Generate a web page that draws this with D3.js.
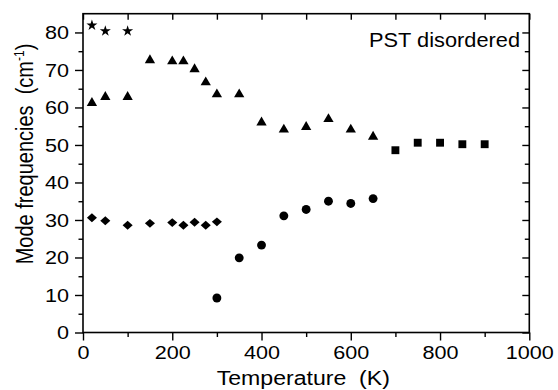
<html>
<head>
  <meta charset="UTF-8">
  <title>PST disordered mode frequencies</title>
  <script src="https://d3js.org/d3.v7.min.js"></script>
  <style>
    body { margin: 0; background: #fff; }
    text { font-family: "Liberation Sans", Arial, sans-serif; fill: #000; }
  </style>
</head>
<body>
  <svg id="chart" width="558" height="390"></svg>
  <script>
    /* Data */
    // stars
    const starT = [20, 50, 100];
    const starF = [81.9, 80.4, 80.4];
    // triangles
    const triT = [20, 50, 100, 150, 200, 225, 250, 275, 300, 350, 400, 450, 500, 550, 600, 650];
    const triF = [61.2, 62.8, 62.8, 72.6, 72.3, 72.3, 70.2, 66.7, 63.5, 63.5, 56.0, 54.1, 54.8, 56.9, 54.1, 52.2];
    // squares
    const sqT = [700, 750, 800, 850, 900];
    const sqF = [48.6, 50.6, 50.6, 50.2, 50.2];
    // diamonds
    const diaT = [20, 50, 100, 150, 200, 225, 250, 275, 300];
    const diaF = [30.6, 29.8, 28.6, 29.1, 29.3, 28.6, 29.4, 28.6, 29.5];
    // circles
    const circT = [300, 350, 400, 450, 500, 550, 600, 650];
    const circF = [9.2, 19.9, 23.3, 31.1, 32.8, 35.0, 34.4, 35.7];

    // ticks
    const xMajor = [0, 200, 400, 600, 800, 1000];
    const xMinor = [100, 300, 500, 700, 900];
    const yMajor = [0, 10, 20, 30, 40, 50, 60, 70, 80];
    const yMinor = [5, 15, 25, 35, 45, 55, 65, 75];

    /* Constants */
    const svg = d3.select("#chart");
    const plotLeft = 83, plotRight = 529.3, plotTop = 13.7, plotBottom = 332.5;

    const x = d3.scaleLinear().domain([0, 1000]).range([plotLeft, plotRight]);
    const y = d3.scaleLinear().domain([0, 85]).range([plotBottom, plotTop]);

    // wide diamond like the original
    const diamond = {
      draw(ctx, size) {
        const r = Math.sqrt(size / 2);
        ctx.moveTo(0, -r * 0.92);
        ctx.lineTo(r * 1.05, 0);
        ctx.lineTo(0, r * 0.92);
        ctx.lineTo(-r * 1.05, 0);
        ctx.closePath();
      }
    };

    /* Axes */
    function noDomain(g) { g.select(".domain").remove(); }

    // bottom (outward)
    svg.append("g").attr("transform", `translate(0,${plotBottom})`)
      .call(d3.axisBottom(x).tickValues(xMajor).tickFormat(d3.format("d")).tickSize(8).tickSizeOuter(0))
      .call(noDomain)
      .call(g => g.selectAll("text")
        .attr("y", 26.8).attr("dy", 0)
        .attr("font-size", 18)
        .attr("transform", "scale(1.2,1)"));
    svg.append("g").attr("transform", `translate(0,${plotBottom})`)
      .call(d3.axisBottom(x).tickValues(xMinor).tickSize(4.5).tickFormat("").tickSizeOuter(0))
      .call(noDomain);

    // top (inward)
    svg.append("g").attr("transform", `translate(0,${plotTop})`)
      .call(d3.axisBottom(x).tickValues(xMajor.concat(xMinor)).tickSize(6).tickFormat("").tickSizeOuter(0))
      .call(noDomain);

    // left (outward)
    svg.append("g").attr("transform", `translate(${plotLeft},0)`)
      .call(d3.axisLeft(y).tickValues(yMajor).tickSize(8).tickSizeOuter(0))
      .call(noDomain)
      .call(g => g.selectAll("text")
        .attr("x", -14 / 1.2).attr("dy", "0.36em")
        .attr("font-size", 18)
        .attr("transform", "scale(1.2,1)"));
    svg.append("g").attr("transform", `translate(${plotLeft},0)`)
      .call(d3.axisLeft(y).tickValues(yMinor).tickSize(4.5).tickFormat("").tickSizeOuter(0))
      .call(noDomain);

    // right (inward)
    svg.append("g").attr("transform", `translate(${plotRight},0)`)
      .call(d3.axisLeft(y).tickValues(yMajor).tickSize(7).tickFormat("").tickSizeOuter(0))
      .call(noDomain);
    svg.append("g").attr("transform", `translate(${plotRight},0)`)
      .call(d3.axisLeft(y).tickValues(yMinor).tickSize(4.5).tickFormat("").tickSizeOuter(0))
      .call(noDomain);

    svg.selectAll(".tick line").attr("stroke", "#000").attr("stroke-width", 1.4);

    // frame
    svg.append("rect")
      .attr("x", plotLeft).attr("y", plotTop)
      .attr("width", plotRight - plotLeft).attr("height", plotBottom - plotTop)
      .attr("fill", "none").attr("stroke", "#000").attr("stroke-width", 1.6);

    /* Markers */
    const plotArea = svg.append("g");
    function addSeries(ts, fs, type, size) {
      const sym = d3.symbol().type(type).size(size);
      ts.forEach((t, i) => {
        plotArea.append("path")
          .attr("d", sym())
          .attr("transform", `translate(${x(t)},${y(fs[i])})`)
          .attr("fill", "#000");
      });
    }
    addSeries(starT, starF, d3.symbolStar, 38);
    addSeries(triT, triF, d3.symbolTriangle, 46);
    addSeries(sqT, sqF, d3.symbolSquare, 62);
    addSeries(diaT, diaF, diamond, 46);
    addSeries(circT, circF, d3.symbolCircle, 62);

    /* Labels */
    svg.append("text")
      .attr("transform", "translate(520,46.7) scale(1.09,1)")
      .attr("text-anchor", "end")
      .attr("font-size", 20)
      .text("PST disordered");

    svg.append("text")
      .attr("transform", "translate(303.3,385) scale(1.1,1)")
      .attr("text-anchor", "middle")
      .attr("font-size", 21)
      .style("white-space", "pre")
      .text("Temperature  (K)");

    const yLabel = svg.append("text")
      .attr("transform", "translate(33,154) rotate(-90) scale(1,1.15)")
      .attr("text-anchor", "middle")
      .attr("font-size", 20)
      .style("white-space", "pre");
    yLabel.append("tspan").text("Mode frequencies  (cm");
    yLabel.append("tspan").attr("dy", -8).attr("font-size", 12).text("-1");
    yLabel.append("tspan").attr("dy", 8).text(")");
  </script>
</body>
</html>
